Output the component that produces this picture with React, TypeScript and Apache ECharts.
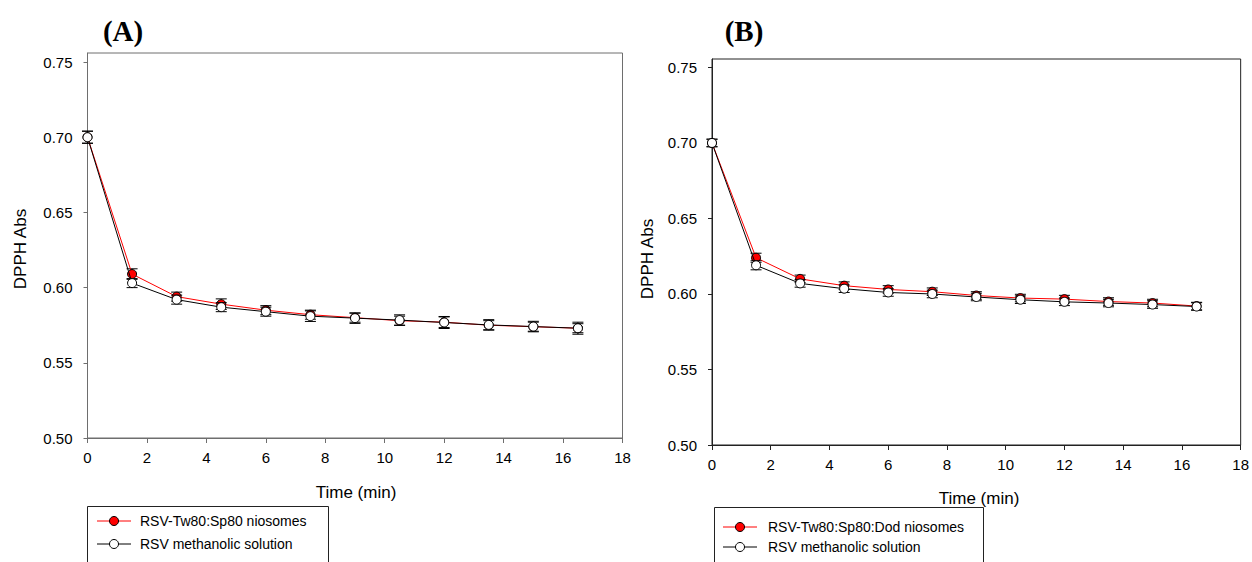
import React, { useEffect, useRef } from "react";
import * as echarts from "echarts";

// ---- data ----
const timeMin = [0, 1.5, 3, 4.5, 6, 7.5, 9, 10.5, 12, 13.5, 15, 16.5];

// Panel A
const nameA1 = "RSV-Tw80:Sp80 niosomes";
const nameA2 = "RSV methanolic solution";
const absA1 = [0.700, 0.609, 0.594, 0.589, 0.585, 0.582, 0.580, 0.578, 0.577, 0.575, 0.574, 0.573];
const errA1 = [0.004, 0.0035, 0.003, 0.0035, 0.003, 0.003, 0.003, 0.003, 0.0035, 0.003, 0.003, 0.003];
const absA2 = [0.700, 0.603, 0.592, 0.587, 0.584, 0.581, 0.5797, 0.5784, 0.5768, 0.5752, 0.5741, 0.573];
const errA2 = [0.004, 0.003, 0.003, 0.003, 0.003, 0.0035, 0.0035, 0.0035, 0.004, 0.0035, 0.0035, 0.004];

// Panel B
const nameB1 = "RSV-Tw80:Sp80:Dod niosomes";
const nameB2 = "RSV methanolic solution";
const absB1 = [0.700, 0.624, 0.610, 0.6055, 0.603, 0.6015, 0.599, 0.5973, 0.5966, 0.595, 0.594, 0.592];
const errB1 = [0.0025, 0.003, 0.0025, 0.0025, 0.0025, 0.0025, 0.0025, 0.0025, 0.0025, 0.0025, 0.0025, 0.0025];
const absB2 = [0.700, 0.619, 0.607, 0.6035, 0.601, 0.600, 0.598, 0.5962, 0.5948, 0.594, 0.593, 0.5917];
const errB2 = [0.0025, 0.003, 0.0025, 0.0025, 0.0025, 0.0025, 0.0025, 0.0025, 0.0025, 0.0025, 0.0025, 0.0025];

const xTicks = [0, 2, 4, 6, 8, 10, 12, 14, 16, 18];
const yTicks = [0.5, 0.55, 0.6, 0.65, 0.7, 0.75];

const FONT = "'Liberation Sans', Arial, sans-serif";
const SERIF = "'Liberation Serif', 'Times New Roman', serif";

function errRender(params: any, api: any) {
  const x = api.value(0);
  const y = api.value(1);
  const e = api.value(2);
  const t = api.coord([x, y + e]);
  const b = api.coord([x, y - e]);
  const hw = 5.5;
  const st = { stroke: "#000", lineWidth: 1 };
  return {
    type: "group",
    children: [
      { type: "line", shape: { x1: t[0], y1: t[1], x2: b[0], y2: b[1] }, style: st },
      { type: "line", shape: { x1: t[0] - hw, y1: t[1], x2: t[0] + hw, y2: t[1] }, style: st },
      { type: "line", shape: { x1: b[0] - hw, y1: b[1], x2: b[0] + hw, y2: b[1] }, style: st },
    ],
  };
}

function panelSeries(idx: number, v1: number[], e1: number[], v2: number[], e2: number[], n1: string, n2: string) {
  return [
    {
      type: "custom",
      xAxisIndex: idx,
      yAxisIndex: idx,
      renderItem: errRender,
      encode: { x: 0, y: 1 },
      clip: false,
      z: 2,
      data: timeMin.map((t, i) => [t, v1[i], e1[i]]),
    },
    {
      type: "line",
      name: n1,
      xAxisIndex: idx,
      yAxisIndex: idx,
      data: timeMin.map((t, i) => [t, v1[i]]),
      symbol: "circle",
      symbolSize: 9,
      z: 3,
      lineStyle: { color: "#ff0000", width: 1 },
      itemStyle: { color: "#ff0000", borderColor: "#000", borderWidth: 1 },
    },
    {
      type: "custom",
      xAxisIndex: idx,
      yAxisIndex: idx,
      renderItem: errRender,
      encode: { x: 0, y: 1 },
      clip: false,
      z: 4,
      data: timeMin.map((t, i) => [t, v2[i], e2[i]]),
    },
    {
      type: "line",
      name: n2,
      xAxisIndex: idx,
      yAxisIndex: idx,
      data: timeMin.map((t, i) => [t, v2[i]]),
      symbol: "circle",
      symbolSize: 9,
      z: 5,
      lineStyle: { color: "#000", width: 1 },
      itemStyle: { color: "#ffffff", borderColor: "#000", borderWidth: 1 },
    },
  ];
}

function xAxis(idx: number, color: string) {
  return {
    type: "value",
    gridIndex: idx,
    min: 0,
    max: 18,
    axisLine: { show: true, lineStyle: { color, width: 1 } },
    axisTick: { show: true, inside: false, length: 5, lineStyle: { color }, customValues: xTicks },
    axisLabel: { color: "#000", fontFamily: FONT, fontSize: 15, margin: 12, customValues: xTicks },
    splitLine: { show: false },
  };
}

function yAxis(idx: number, max: number, color: string) {
  return {
    type: "value",
    gridIndex: idx,
    min: 0.5,
    max,
    axisLine: { show: true, lineStyle: { color, width: 1 } },
    axisTick: { show: true, inside: false, length: 4, lineStyle: { color }, customValues: yTicks },
    axisLabel: {
      color: "#000",
      fontFamily: FONT,
      fontSize: 15,
      margin: 15,
      customValues: yTicks,
      formatter: (v: number) => v.toFixed(2),
    },
    splitLine: { show: false },
  };
}

function legendBox(x: number, y: number, w: number, rows: number[], lineX: number, textX: number, n1: string, n2: string) {
  return [
    {
      type: "rect",
      shape: { x, y, width: w, height: 90 },
      style: { fill: "none", stroke: "#222", lineWidth: 1 },
    },
    { type: "line", shape: { x1: lineX, y1: rows[0], x2: lineX + 34, y2: rows[0] }, style: { stroke: "#ff0000", lineWidth: 1 } },
    { type: "circle", shape: { cx: lineX + 17, cy: rows[0], r: 4.5 }, style: { fill: "#ff0000", stroke: "#000", lineWidth: 1 } },
    { type: "text", x: textX, y: rows[0], style: { text: n1, fontFamily: FONT, fontSize: 14, fill: "#000", verticalAlign: "middle", align: "left" } },
    { type: "line", shape: { x1: lineX, y1: rows[1], x2: lineX + 34, y2: rows[1] }, style: { stroke: "#000", lineWidth: 1 } },
    { type: "circle", shape: { cx: lineX + 17, cy: rows[1], r: 4.5 }, style: { fill: "#fff", stroke: "#000", lineWidth: 1 } },
    { type: "text", x: textX, y: rows[1], style: { text: n2, fontFamily: FONT, fontSize: 14, fill: "#000", verticalAlign: "middle", align: "left" } },
  ];
}

export default function App() {
  const ref = useRef<HTMLDivElement>(null);
  useEffect(() => {
    if (!ref.current) return;
    const chart = echarts.init(ref.current, null, { renderer: "svg" });
    const colA = "#6e6e6e";
    const colB = "#222222";
    chart.setOption({
      animation: false,
      backgroundColor: "#ffffff",
      grid: [
        { left: 87.5, top: 53, width: 535, height: 385, show: true, borderColor: colA, borderWidth: 1, backgroundColor: "transparent" },
        { left: 712, top: 59, width: 533.5, height: 386, show: true, borderColor: colB, borderWidth: 1, backgroundColor: "transparent" },
      ],
      xAxis: [xAxis(0, colA), xAxis(1, colB)],
      yAxis: [yAxis(0, 0.756, colA), yAxis(1, 0.7556, colB)],
      series: [
        ...panelSeries(0, absA1, errA1, absA2, errA2, nameA1, nameA2),
        ...panelSeries(1, absB1, errB1, absB2, errB2, nameB1, nameB2),
      ],
      graphic: [
        { type: "text", x: 123, y: 31, style: { text: "(A)", fontFamily: SERIF, fontWeight: "bold", fontSize: 29, fill: "#000", align: "center", verticalAlign: "middle" } },
        { type: "text", x: 744, y: 31, style: { text: "(B)", fontFamily: SERIF, fontWeight: "bold", fontSize: 29, fill: "#000", align: "center", verticalAlign: "middle" } },
        { type: "text", x: 20, y: 249, rotation: Math.PI / 2, style: { text: "DPPH Abs", fontFamily: FONT, fontSize: 17, fill: "#000", align: "center", verticalAlign: "middle" } },
        { type: "text", x: 647, y: 259, rotation: Math.PI / 2, style: { text: "DPPH Abs", fontFamily: FONT, fontSize: 17, fill: "#000", align: "center", verticalAlign: "middle" } },
        { type: "text", x: 356, y: 492, style: { text: "Time (min)", fontFamily: FONT, fontSize: 17, fill: "#000", align: "center", verticalAlign: "middle" } },
        { type: "text", x: 979, y: 498, style: { text: "Time (min)", fontFamily: FONT, fontSize: 17, fill: "#000", align: "center", verticalAlign: "middle" } },
        ...legendBox(87.5, 506.5, 241, [521, 544], 97, 140, nameA1, nameA2),
        ...legendBox(714.5, 507.5, 269, [527, 547], 723, 768, nameB1, nameB2),
      ],
    });
    return () => chart.dispose();
  }, []);
  return <div ref={ref} style={{ position: "absolute", left: 0, top: 0, width: 1252, height: 562 }} />;
}
